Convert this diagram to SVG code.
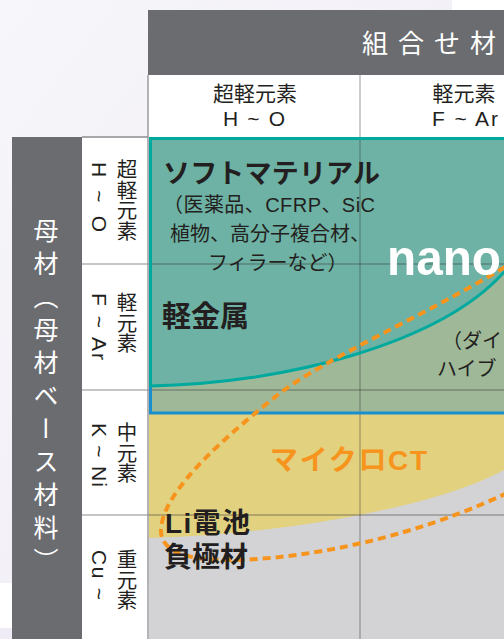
<svg xmlns="http://www.w3.org/2000/svg" width="504" height="639" viewBox="0 0 504 639">
<defs>
<linearGradient id="lav" x1="0" y1="0" x2="1" y2="1">
<stop offset="0" stop-color="#f7f6fa"/>
<stop offset="1" stop-color="#efecf5"/>
</linearGradient>
<style>
.jp{font-family:"Noto Sans CJK JP","Noto Sans CJK SC",sans-serif}
.mix{font-family:"Liberation Sans","Noto Sans CJK JP",sans-serif}
.b{font-weight:700}
.ink{fill:#231f20}
.wt{fill:#ffffff}
.vt{writing-mode:vertical-rl}
.grid{stroke:#3c3c3c;stroke-opacity:0.4;stroke-width:1.3;fill:none}
.sep{stroke:#8d8d90;stroke-width:1.3;fill:none}
</style>
</defs>
<rect x="0" y="0" width="504" height="639" fill="#ffffff"/>
<rect x="0" y="0" width="452" height="583" fill="url(#lav)"/>
<rect x="0" y="628" width="12" height="11" fill="#efecf5"/>

<g id="header-top">
<rect x="148" y="10" width="356" height="65" fill="#6b6c70"/>
<text class="jp wt" x="362" y="53" font-size="26" letter-spacing="10">組合せ材</text>
</g>

<g id="col-header">
<rect x="148" y="75" width="356" height="62" fill="#ffffff"/>
<text class="jp ink" x="255" y="101" font-size="21" text-anchor="middle">超軽元素</text>
<text class="mix ink" x="223" y="126" font-size="21" textLength="62">H ~ O</text>
<text class="jp ink" x="464" y="101" font-size="21" text-anchor="middle">軽元素</text>
<text class="mix ink" x="432" y="126" font-size="21" textLength="66">F ~ Ar</text>
</g>

<g id="row-axis">
<rect x="12" y="137" width="70" height="502" fill="#6b6c70"/>
<text class="jp wt vt" x="46" y="218" font-size="25" letter-spacing="8">母材（母材ベース材料）</text>
</g>

<g id="row-header">
<rect x="82" y="137" width="66" height="502" fill="#ffffff"/>
<text class="jp ink vt" x="127" y="159" font-size="20.5">超軽元素</text>
<text class="mix ink" transform="translate(91.5,162) rotate(90)" font-size="21" textLength="70">H ~ O</text>
<text class="jp ink vt" x="127" y="292" font-size="20.5">軽元素</text>
<text class="mix ink" transform="translate(91.5,293) rotate(90)" font-size="21" textLength="67">F ~ Ar</text>
<text class="jp ink vt" x="127" y="422" font-size="20.5">中元素</text>
<text class="mix ink" transform="translate(91.5,423) rotate(90)" font-size="21" textLength="64">K ~ Ni</text>
<text class="jp ink vt" x="127" y="549" font-size="20.5">重元素</text>
<text class="mix ink" transform="translate(91.5,550) rotate(90)" font-size="21" textLength="50">Cu ~</text>
</g>

<g id="regions">
<rect x="149" y="137" width="355" height="502" fill="#d3d3d5"/>
<path d="M149,413 H504 V470 C430,510 270,535 149,538 Z" fill="#e2d17f"/>
<rect x="150" y="137" width="354" height="277" fill="#9fb898"/>
<path d="M150,137 H504 V271 C440,345 280,384 150,386 Z" fill="#6db2a4"/>
</g>

<g id="connectors">
<line class="grid" x1="360" y1="75" x2="360" y2="639"/>
<line class="grid" x1="82" y1="264" x2="504" y2="264"/>
<line class="grid" x1="82" y1="390" x2="504" y2="390"/>
<line class="grid" x1="82" y1="515" x2="504" y2="515"/>
<line class="sep" x1="148" y1="75" x2="148" y2="639"/>
<line class="sep" x1="82" y1="137" x2="148" y2="137"/>
<path d="M150.5,137 V413 H505" fill="none" stroke="#1a8fce" stroke-width="3"/>
<path d="M505,271 C440,345 280,384 150.5,386 V138.5 H505" fill="none" stroke="#00a99d" stroke-width="3"/>
<path d="M505,267 C420,318 330,356 280,393 C230,433 162,490 161,530 C160,565 230,562 280,557 C370,547 450,520 505,494" fill="none" stroke="#f7941d" stroke-width="4" stroke-dasharray="8 5"/>
</g>

<g id="soft-material">
<text class="jp b ink" x="163" y="183" font-size="27" textLength="217">ソフトマテリアル</text>
<text class="mix ink" x="163" y="212" font-size="20" textLength="212">（医薬品、CFRP、SiC</text>
<text class="jp ink" x="170" y="241" font-size="20" textLength="200">植物、高分子複合材、</text>
<text class="jp ink" x="208" y="270" font-size="20">フィラーなど）</text>
</g>

<g id="light-metal">
<text class="jp b ink" x="162" y="327" font-size="29">軽金属</text>
</g>

<g id="nano">
<text class="mix b wt" x="387" y="275" font-size="50" textLength="114" lengthAdjust="spacingAndGlyphs">nano</text>
</g>

<g id="diamond">
<text class="jp ink" x="442" y="348" font-size="20">（ダイ</text>
<text class="jp ink" x="437" y="376" font-size="20">ハイブ</text>
</g>

<g id="micro-ct">
<text class="mix b" x="270" y="470" font-size="28" textLength="157" fill="#f7941d">マイクロCT</text>
</g>

<g id="li-battery">
<text class="mix b ink" x="165" y="533" font-size="28" textLength="85">Li電池</text>
<text class="jp b ink" x="164" y="567" font-size="28">負極材</text>
</g>
</svg>
